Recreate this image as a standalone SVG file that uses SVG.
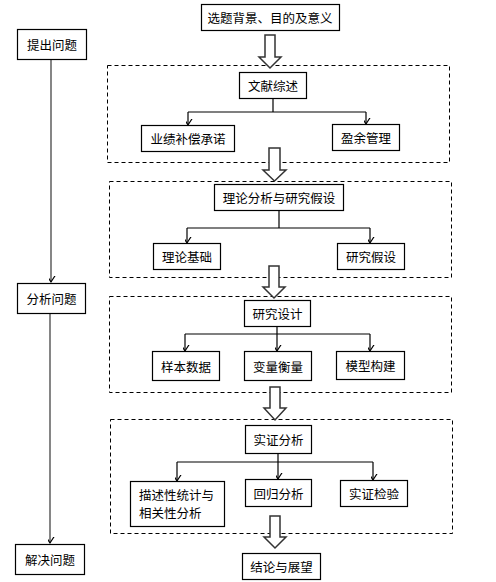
<svg xmlns="http://www.w3.org/2000/svg" width="496" height="582" viewBox="0 0 496 582">
<defs>
<style>
.box{fill:#fff;stroke:#000;stroke-width:1.2}
.dash{fill:none;stroke:#000;stroke-width:1;stroke-dasharray:4,3}
.t{font-family:"Noto Sans CJK SC","Noto Sans",sans-serif;font-size:12.5px;fill:#000;text-anchor:middle;dominant-baseline:central}
.tl{font-family:"Noto Sans CJK SC","Noto Sans",sans-serif;font-size:12.5px;fill:#000;dominant-baseline:central}
.ln{fill:none;stroke:#000;stroke-width:1.2}
.gl{fill:none;stroke:#444;stroke-width:1.3}
.big{fill:#fff;stroke:#333;stroke-width:1.5;stroke-linejoin:miter}
</style>
<marker id="v" markerUnits="userSpaceOnUse" markerWidth="12" markerHeight="10" viewBox="-6 -8 12 10" refX="0" refY="0" orient="auto-start-reverse">
<path d="M-4.5,-7 L0,0 L4.5,-7" fill="none" stroke="#000" stroke-width="1.2" transform="rotate(-90)"/>
</marker>
</defs>
<rect width="496" height="582" fill="#fff"/>

<g id="groups">
<rect class="dash" x="107.5" y="65.5" width="342" height="97"/>
<rect class="dash" x="109.5" y="181.5" width="342" height="96"/>
<rect class="dash" x="109.5" y="296.5" width="342" height="96"/>
<rect class="dash" x="110.5" y="419.5" width="342" height="114"/>
</g>

<g id="connectors">
<path class="ln" d="M273,98 V112 M188,112 H366"/>
<path class="ln" d="M188,112 V125" marker-end="url(#v)"/>
<path class="ln" d="M366,112 V124" marker-end="url(#v)"/>
<path class="ln" d="M279,210 V228 M187,228 H370"/>
<path class="ln" d="M187,228 V243" marker-end="url(#v)"/>
<path class="ln" d="M370,228 V243" marker-end="url(#v)"/>
<path class="ln" d="M277,326 V334 M185,334 H370"/>
<path class="ln" d="M185,334 V351" marker-end="url(#v)"/>
<path class="ln" d="M277,334 V351" marker-end="url(#v)"/>
<path class="ln" d="M370,334 V351" marker-end="url(#v)"/>
<path class="ln" d="M278,453 V462 M177,462 H373"/>
<path class="ln" d="M177,462 V481" marker-end="url(#v)"/>
<path class="ln" d="M278,462 V479" marker-end="url(#v)"/>
<path class="ln" d="M373,462 V480" marker-end="url(#v)"/>
<path class="gl" d="M51,59 V282" marker-end="url(#v)"/>
<path class="gl" d="M50,313 V543" marker-end="url(#v)"/>
<path class="big" d="M265,35 H275 V57 H281 L270,68 L259,57 H265 Z"/>
<path class="big" d="M269,148 H280 V170 H286 L274.5,181 L263,170 H269 Z"/>
<path class="big" d="M269,266 H279 V287 H285 L274,298 L263,287 H269 Z"/>
<path class="big" d="M270,387 H280 V408 H286 L275,420 L264,408 H270 Z"/>
<path class="big" d="M270,516 H280 V537 H286 L275,548 L264,537 H270 Z"/>
</g>

<g id="n-top"><rect class="box" x="201.5" y="4.5" width="138" height="26"/><text class="t" x="270" y="17.5">选题背景、目的及意义</text></g>
<g id="n-tichu"><rect class="box" x="17.5" y="29.5" width="69" height="30"/><text class="t" x="52" y="44.5">提出问题</text></g>
<g id="n-wenxian"><rect class="box" x="239.5" y="72.5" width="67" height="26"/><text class="t" x="273" y="85.5">文献综述</text></g>
<g id="n-yeji"><rect class="box" x="141.5" y="125.5" width="93" height="26"/><text class="t" x="188" y="138.5">业绩补偿承诺</text></g>
<g id="n-yingyu"><rect class="box" x="332.5" y="124.5" width="67" height="26"/><text class="t" x="366" y="137.5">盈余管理</text></g>
<g id="n-lilun"><rect class="box" x="214.5" y="184.5" width="129" height="26"/><text class="t" x="279" y="197.5">理论分析与研究假设</text></g>
<g id="n-jichu"><rect class="box" x="153.5" y="243.5" width="67" height="26"/><text class="t" x="187" y="256.5">理论基础</text></g>
<g id="n-jiashe"><rect class="box" x="337.5" y="243.5" width="67" height="26"/><text class="t" x="371" y="256.5">研究假设</text></g>
<g id="n-fenxi"><rect class="box" x="17.5" y="283.5" width="68" height="30"/><text class="t" x="51.5" y="298.5">分析问题</text></g>
<g id="n-sheji"><rect class="box" x="244.5" y="300.5" width="66" height="26"/><text class="t" x="277.5" y="313.5">研究设计</text></g>
<g id="n-yangben"><rect class="box" x="152.5" y="351.5" width="67" height="29"/><text class="t" x="186" y="366">样本数据</text></g>
<g id="n-bianliang"><rect class="box" x="244.5" y="351.5" width="67" height="29"/><text class="t" x="278" y="366">变量衡量</text></g>
<g id="n-moxing"><rect class="box" x="336.5" y="351.5" width="68" height="28"/><text class="t" x="370.5" y="365.5">模型构建</text></g>
<g id="n-shizheng"><rect class="box" x="245.5" y="425.5" width="66" height="28"/><text class="t" x="278.5" y="439.5">实证分析</text></g>
<g id="n-miaoshu"><rect class="box" x="130.5" y="481.5" width="94" height="45"/><text class="tl" x="139" y="494.5">描述性统计与</text><text class="tl" x="139" y="512.5">相关性分析</text></g>
<g id="n-huigui"><rect class="box" x="245.5" y="479.5" width="66" height="27"/><text class="t" x="278.5" y="493">回归分析</text></g>
<g id="n-jianyan"><rect class="box" x="340.5" y="480.5" width="67" height="26"/><text class="t" x="374" y="493.5">实证检验</text></g>
<g id="n-jielun"><rect class="box" x="242.5" y="553.5" width="78" height="26"/><text class="t" x="281.5" y="566.5">结论与展望</text></g>
<g id="n-jiejue"><rect class="box" x="15.5" y="544.5" width="69" height="30"/><text class="t" x="50" y="559.5">解决问题</text></g>
</svg>
